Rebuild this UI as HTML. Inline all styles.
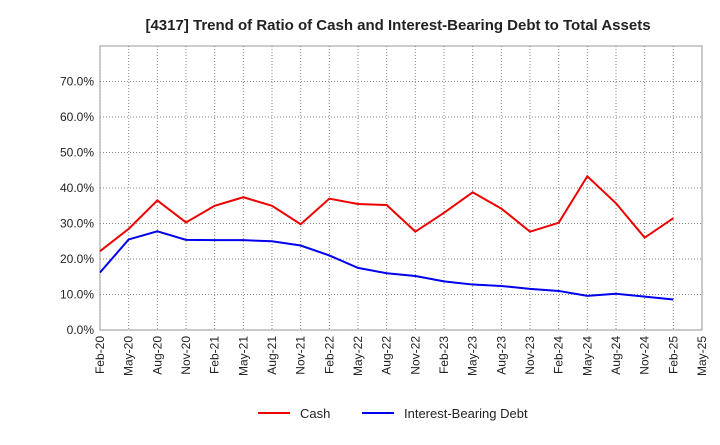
<!DOCTYPE html>
<html><head><meta charset="utf-8"><style>
body{margin:0;background:#fff;font-family:"Liberation Sans",Arial,sans-serif}
svg text{font-family:"Liberation Sans",Arial,sans-serif}
</style></head><body>
<svg id="c" width="720" height="440">
<text x="398" y="30" text-anchor="middle" font-size="15" font-weight="bold" fill="#222">[4317]  Trend of Ratio of Cash and Interest-Bearing Debt to Total Assets</text>
<g id="grid"></g><g id="axes"></g><g id="series"></g>
<g>
<line x1="258" y1="413" x2="290" y2="413" stroke="#e00" stroke-width="2"/>
<text x="300" y="418" font-size="13" fill="#222">Cash</text>
<line x1="362" y1="413" x2="394" y2="413" stroke="#00e" stroke-width="2"/>
<text x="404" y="418" font-size="13" fill="#222">Interest-Bearing Debt</text>
</g>
</svg>
<script>
const categories=["Feb-20","May-20","Aug-20","Nov-20","Feb-21","May-21","Aug-21","Nov-21","Feb-22","May-22","Aug-22","Nov-22","Feb-23","May-23","Aug-23","Nov-23","Feb-24","May-24","Aug-24","Nov-24","Feb-25","May-25"];
const cashValues=[22.2,28.5,36.5,30.3,35,37.4,35,29.8,37,35.5,35.2,27.7,33,38.8,34.2,27.7,30.2,43.3,35.7,26,31.5];
const debtValues=[16.2,25.5,27.8,25.4,25.3,25.3,25,23.8,21,17.5,16,15.2,13.7,12.8,12.4,11.6,11,9.6,10.2,9.4,8.6];
const yTicks=[0,10,20,30,40,50,60,70];
const L=100,R=702,T=46,B=330,YMAX=80;
const NS="http://www.w3.org/2000/svg";
const x=i=>L+(R-L)*i/(categories.length-1);
const y=v=>B-(B-T)*v/YMAX;
function mk(tag,attrs,parent){const e=document.createElementNS(NS,tag);for(const k in attrs)e.setAttribute(k,attrs[k]);document.getElementById(parent).appendChild(e);return e;}
mk('rect',{x:L,y:T,width:R-L,height:B-T,fill:'none',stroke:'#999'},'grid');
yTicks.forEach(v=>{
 const g=mk('line',{x1:L,x2:R,y1:y(v),y2:y(v),stroke:'#888','stroke-dasharray':'1,2','stroke-width':1},'grid');
 
 
 const t=mk('text',{x:L-6,y:y(v)+4,'text-anchor':'end','font-size':12,fill:'#222'},'axes');
 t.textContent=v.toFixed(1)+'%';
 
 
});
categories.forEach((c,i)=>{
 const g=mk('line',{x1:x(i),x2:x(i),y1:T,y2:B,stroke:'#888','stroke-dasharray':'1,2','stroke-width':1},'grid');
 
 
 const t=mk('text',{x:0,y:0,'text-anchor':'end','font-size':12,fill:'#222',transform:`translate(${x(i)+4},${B+6}) rotate(-90)`},'axes');
 t.textContent=c;
 
 
});
function line(vals,color,name){
 const p=mk('polyline',{points:vals.map((v,i)=>x(i)+','+y(v)).join(' '),fill:'none',stroke:color,'stroke-width':2},'series');
 
 
}
line(cashValues,'#e00','cash-line');
line(debtValues,'#00e','debt-line');
</script>
</body></html>
